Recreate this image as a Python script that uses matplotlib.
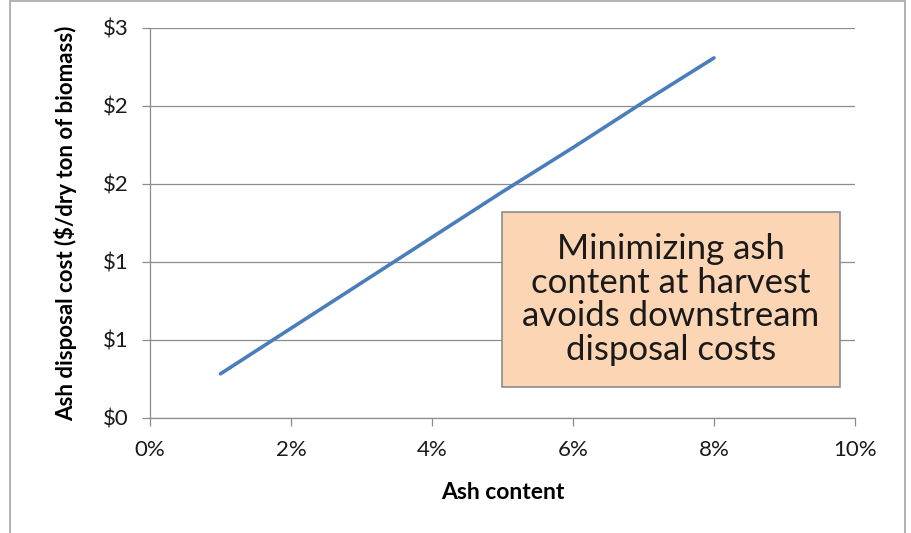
import matplotlib.pyplot as plt
import matplotlib.ticker as mticker
from matplotlib.patches import Rectangle

ash_pct = [1, 2, 3, 4, 5, 6, 7, 8]
cost = [0.34, 0.69, 1.04, 1.39, 1.74, 2.08, 2.43, 2.77]
y_ticks = [0, 0.6, 1.2, 1.8, 2.4, 3.0]
x_ticks = [0, 2, 4, 6, 8, 10]
note = "Minimizing ash\ncontent at harvest\navoids downstream\ndisposal costs"


def dollars(v, pos):
    return "$" + str(int(v + 0.5))


def percent(v, pos):
    return str(int(round(v))) + "%"


plt.rcParams['font.family'] = ['Lato', 'DejaVu Sans']

fig = plt.figure(figsize=(9.12, 5.33), dpi=100)
fig.patches.append(Rectangle((10 / 912, -0.1), 895 / 912, 1.098, transform=fig.transFigure,
                             fill=False, edgecolor='#a6a6a6', linewidth=1.2))
ax = fig.add_axes([150 / 912, 1 - 418 / 533, 705 / 912, 390 / 533])

ax.plot(ash_pct, cost, color='#4a7ebb', linewidth=2.6, solid_capstyle='round', zorder=3)

ax.set_xlim(0, 10)
ax.set_ylim(0, 3.0)
ax.set_xticks(x_ticks)
ax.set_yticks(y_ticks)
ax.xaxis.set_major_formatter(mticker.FuncFormatter(percent))
ax.yaxis.set_major_formatter(mticker.FuncFormatter(dollars))
ax.yaxis.grid(True, color='#8c8c8c', linewidth=0.9)
ax.set_axisbelow(True)

for s in ['top', 'right']:
    ax.spines[s].set_visible(False)
for s in ['left', 'bottom']:
    ax.spines[s].set_color('#8c8c8c')
    ax.spines[s].set_linewidth(0.9)
ax.tick_params(axis='both', colors='#8c8c8c', length=6, width=0.9, labelsize=16,
               labelcolor='#1a1a1a')
ax.tick_params(axis='x', pad=10)
ax.tick_params(axis='y', pad=9)

ax.set_xlabel('Ash content', fontsize=16.5, fontweight='bold', labelpad=16)
ax.set_ylabel('Ash disposal cost ($/dry ton of biomass)', fontsize=16, fontweight='bold', labelpad=19)

ax.text(0.739, 0.304, note, transform=ax.transAxes, ha='center', va='center',
        fontsize=25, linespacing=1.07, color='#1a1a1a', zorder=5,
        bbox=dict(boxstyle='square,pad=0.6', facecolor='#fcd5b5', edgecolor='#8c8c8c', linewidth=1.2))

plt.savefig('out.png', dpi=100)
